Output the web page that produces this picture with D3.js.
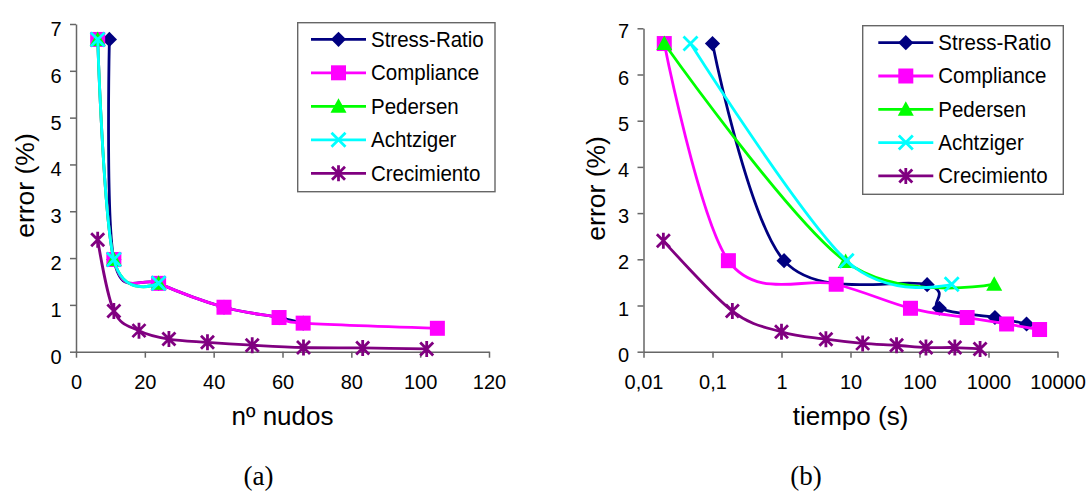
<!DOCTYPE html>
<html><head><meta charset="utf-8">
<script src="https://cdn.jsdelivr.net/npm/d3@7"></script>
<style>body{margin:0;background:#fff}svg{display:block}</style>
</head><body>
<svg id="c" width="1089" height="494"></svg>
<script>
// ---------- DATA ----------
const seriesNames = ["Stress-Ratio", "Compliance", "Pedersen", "Achtziger", "Crecimiento"];

// (a) error (%) vs nº nudos
const nodosStress      = [9.7, 11, 24, 43, 59, 66];
const errStressA       = [6.67, 1.97, 1.46, 0.95, 0.73, 0.61];
const nodosCompliance  = [6.3, 11, 24, 43, 59, 66, 105];
const errComplianceA   = [6.67, 1.97, 1.46, 0.95, 0.73, 0.61, 0.50];
const nodosPedersen    = [6.3, 11, 24];
const errPedersenA     = [6.67, 1.97, 1.46];
const nodosAchtziger   = [6.3, 11, 24];
const errAchtzigerA    = [6.67, 1.97, 1.46];
const nodosCrec        = [6.3, 11, 18.3, 27, 38.2, 51.2, 66.1, 83.3, 101.9];
const errCrecA         = [2.39, 0.87, 0.45, 0.27, 0.20, 0.14, 0.09, 0.08, 0.06];

// (b) error (%) vs tiempo (s)
const tStress          = [0.1, 1.09, 129, 194, 1240, 3560];
const errStressB       = [6.67, 1.97, 1.45, 0.94, 0.74, 0.60];
const tCompliance      = [0.02, 0.17, 6.2, 74, 490, 1830, 5500];
const errComplianceB   = [6.67, 1.97, 1.46, 0.94, 0.74, 0.60, 0.48];
const tPedersen        = [0.02, 8.5, 1210];
const errPedersenB     = [6.67, 1.95, 1.46];
const tAchtziger       = [0.048, 8.8, 293];
const errAchtzigerB    = [6.67, 1.97, 1.46];
const tCrec            = [0.0194, 0.194, 1.0, 4.4, 15, 46.5, 124, 325, 755];
const errCrecB         = [2.40, 0.88, 0.43, 0.27, 0.18, 0.14, 0.09, 0.09, 0.06];

// ticks
const errTicks = [0, 1, 2, 3, 4, 5, 6, 7];
const nodosTicks = [0, 20, 40, 60, 80, 100, 120];
const nodosTickLabels = ["0", "20", "40", "60", "80", "100", "120"];
const tiempoTicks = [0.01, 0.1, 1, 10, 100, 1000, 10000];
const tiempoTickLabels = ["0,01", "0,1", "1", "10", "100", "1000", "10000"];

// ---------- STYLE ----------
const colors = ["#000080", "#FF00FF", "#00FF00", "#00FFFF", "#800080"];
const markerKinds = ["diamond", "square", "triangle", "x", "star"];
const FONT = "'Liberation Sans', Arial, sans-serif";
const AXIS_COLOR = "#666";
const LW = 2.8;

const svg = d3.select("#c");
svg.append("rect").attr("width", 1089).attr("height", 494).attr("fill", "#fff");

function zip(xs, ys) { return xs.map((v, i) => [v, ys[i]]); }

function drawMarker(g, kind, color) {
  if (kind === "diamond") {
    g.append("path").attr("d", "M0,-7.6L7.6,0L0,7.6L-7.6,0Z").attr("fill", color);
  } else if (kind === "square") {
    g.append("rect").attr("x", -7.5).attr("y", -7.5).attr("width", 15).attr("height", 15).attr("fill", color);
  } else if (kind === "triangle") {
    g.append("path").attr("d", "M0,-8L8,6.5L-8,6.5Z").attr("fill", color);
  } else if (kind === "x") {
    g.append("path").attr("d", "M-7,-7L7,7M-7,7L7,-7")
      .attr("stroke", color).attr("stroke-width", 2.8).attr("fill", "none");
  } else if (kind === "star") {
    g.append("path").attr("d", "M-6.5,-6.5L6.5,6.5M-6.5,6.5L6.5,-6.5M0,-8L0,8")
      .attr("stroke", color).attr("stroke-width", 2.8).attr("fill", "none");
  }
}

function sText(parent, x, y, str, size, anchor, sy, family) {
  return parent.append("text")
    .attr("transform", `translate(${x},${y}) scale(1,${sy})`)
    .attr("text-anchor", anchor)
    .attr("font-family", family || FONT)
    .attr("font-size", size)
    .attr("fill", "#000")
    .text(str);
}

function styleAxis(g) {
  g.select(".domain").attr("stroke", AXIS_COLOR).attr("stroke-width", 1.5);
  g.selectAll(".tick line").attr("stroke", AXIS_COLOR).attr("stroke-width", 1.5);
  g.selectAll(".tick text").attr("fill", "#000").attr("font-family", FONT).attr("font-size", 20);
}

function panel(cfg) {
  const x = cfg.x, y = cfg.y;
  const yBase = y(0);
  const gx = svg.append("g").attr("transform", `translate(0,${yBase})`)
    .call(d3.axisBottom(x).tickValues(cfg.xTicks).tickSize(6).tickSizeOuter(0).tickPadding(17.5)
      .tickFormat((d, i) => cfg.xTickLabels[i]));
  styleAxis(gx);
  const gy = svg.append("g").attr("transform", `translate(${cfg.xLeft},0)`)
    .call(d3.axisLeft(y).tickValues(errTicks).tickSize(6).tickSizeOuter(0).tickPadding(8.5)
      .tickFormat(d3.format("d")));
  styleAxis(gy);
  gy.selectAll(".tick text").attr("dy", cfg.yLabelDy);

  const line = d3.line().x(d => x(d[0])).y(d => y(d[1])).curve(d3.curveCatmullRom.alpha(0));
  cfg.series.forEach((s, i) => {
    svg.append("path").datum(s).attr("d", line).attr("fill", "none")
      .attr("stroke", colors[i]).attr("stroke-width", LW).attr("stroke-linejoin", "round");
    s.forEach(p => {
      const g = svg.append("g").attr("transform", `translate(${x(p[0])},${y(p[1])})`);
      drawMarker(g, markerKinds[i], colors[i]);
    });
  });

  const L = cfg.legend;
  svg.append("rect").attr("x", L.x0).attr("y", L.y0).attr("width", L.x1 - L.x0).attr("height", L.y1 - L.y0)
    .attr("fill", "#fff").attr("stroke", AXIS_COLOR).attr("stroke-width", 1.4);
  seriesNames.forEach((name, i) => {
    const ry = L.row0 + i * L.step;
    svg.append("line").attr("x1", L.lx0).attr("x2", L.lx1).attr("y1", ry).attr("y2", ry)
      .attr("stroke", colors[i]).attr("stroke-width", LW);
    const g = svg.append("g").attr("transform", `translate(${(L.lx0 + L.lx1) / 2},${ry})`);
    drawMarker(g, markerKinds[i], colors[i]);
    sText(svg, L.tx, ry + 7.4, name, 20.5, "start", 1.08);
  });

  sText(svg, (cfg.xLeft + cfg.xRight) / 2, 424.5, cfg.xTitle, 26, "middle", 1);
  svg.append("text")
    .attr("transform", `translate(${cfg.yTitleX},${cfg.yTitleY}) rotate(-90)`)
    .attr("text-anchor", "middle").attr("font-family", FONT).attr("font-size", 26.5)
    .text("error (%)");
  sText(svg, cfg.capX, 485, cfg.caption, 27, "middle", 1, "'Liberation Serif', 'Times New Roman', serif");
}

// Panel (a)
const xA = d3.scaleLinear().domain([0, 120]).range([76, 489]);
const yA = d3.scaleLinear().domain([0, 7]).range([351.7, 24]);
panel({
  x: xA, y: yA, xLeft: 76, xRight: 489,
  xTicks: nodosTicks, xTickLabels: nodosTickLabels, yLabelDy: 11.5,
  series: [zip(nodosStress, errStressA), zip(nodosCompliance, errComplianceA), zip(nodosPedersen, errPedersenA),
           zip(nodosAchtziger, errAchtzigerA), zip(nodosCrec, errCrecA)],
  legend: {x0: 297.7, x1: 495, y0: 22.7, y1: 191.7, row0: 39.3, step: 33.5, lx0: 311, lx1: 366, tx: 371},
  xTitle: "nº nudos", yTitleX: 33.5, yTitleY: 185.5, caption: "(a)", capX: 258.5
});

// Panel (b)
const xB = d3.scaleLog().domain([0.01, 10000]).range([643.5, 1057.5]);
const yB = d3.scaleLinear().domain([0, 7]).range([351.7, 28.3]);
panel({
  x: xB, y: yB, xLeft: 643.5, xRight: 1057.5,
  xTicks: tiempoTicks, xTickLabels: tiempoTickLabels, yLabelDy: 9.5,
  series: [zip(tStress, errStressB), zip(tCompliance, errComplianceB), zip(tPedersen, errPedersenB),
           zip(tAchtziger, errAchtzigerB), zip(tCrec, errCrecB)],
  legend: {x0: 862.7, x1: 1063.3, y0: 25.7, y1: 194.3, row0: 42.7, step: 33.3, lx0: 878.3, lx1: 933.3, tx: 938.3},
  xTitle: "tiempo (s)", yTitleX: 605, yTitleY: 188.4, caption: "(b)", capX: 806
});
</script>
</body></html>
